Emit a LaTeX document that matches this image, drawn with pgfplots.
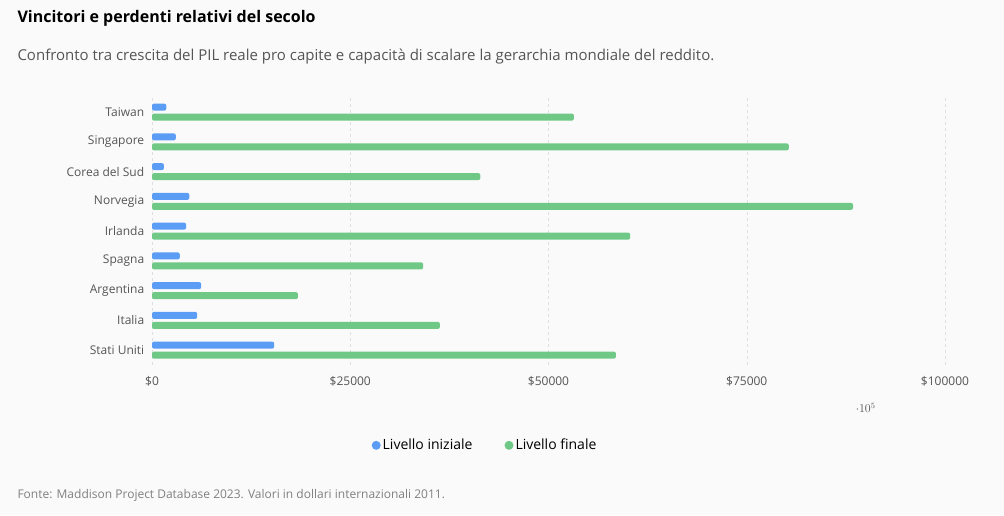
\documentclass[border=0pt]{standalone}
\usepackage{pgfplots}
\pgfplotsset{compat=1.18}
\usepackage{fontspec}
\setmainfont{Open Sans}
\definecolor{cb}{HTML}{5B9CF5}
\definecolor{cg}{HTML}{6FC886}
\definecolor{tg}{HTML}{555555}
\begin{document}
\begin{tikzpicture}[x=1pt,y=1pt]
\fill[white!98!black] (0,0) rectangle (1004,515);
\node[anchor=west,font=\fontsize{16}{18}\selectfont\bfseries] at (14,497) {Vincitori e perdenti relativi del secolo};
\node[anchor=west,font=\fontsize{15}{18}\selectfont,text=tg] at (14,458) {Confronto tra crescita del PIL reale pro capite e capacità di scalare la gerarchia mondiale del reddito.};
\node[anchor=west,font=\fontsize{12}{14}\selectfont,text=gray] at (14,20) {Fonte: Maddison Project Database 2023. Valori in dollari internazionali 2011.};
\begin{axis}[at={(152pt,150pt)},anchor=south west,scale only axis,width=793pt,height=267.75pt,
 xmin=0,xmax=100000,ymin=-0.5,ymax=8.5,axis line style={draw=none},
 xbar,bar width=7pt,
 xtick={0,25000,50000,75000,100000},xticklabels={\$0,\$25000,\$50000,\$75000,\$100000},
 xmajorgrids,grid style={dashed,gray!25},
 ytick={0,...,8},yticklabels={Stati Uniti,Italia,Argentina,Spagna,Irlanda,Norvegia,Corea del Sud,Singapore,Taiwan},
 tick style={draw=none},
 ticklabel style={font=\fontsize{12}{14}\selectfont,text=tg},
 xticklabel style={yshift=-8pt},
 legend style={at={(0.42,-0.3)},anchor=center,draw=none,fill=none,legend columns=2,font=\fontsize{14}{16}\selectfont,/tikz/every even column/.append style={column sep=30pt}},
 legend image code/.code={\fill[#1] (0.3em,0) circle (4.5pt);}]
\addplot[fill=cb,draw=none,bar shift=5pt,rounded corners=2pt] coordinates {(15400,0) (5700,1) (6200,2) (3500,3) (4300,4) (4700,5) (1500,6) (3000,7) (1800,8)};
\addplot[fill=cg,draw=none,bar shift=-5pt,rounded corners=2pt] coordinates {(58500,0) (36300,1) (18400,2) (34200,3) (60300,4) (88400,5) (41400,6) (80300,7) (53200,8)};
\legend{Livello iniziale,Livello finale}
\end{axis}
\end{tikzpicture}
\end{document}
